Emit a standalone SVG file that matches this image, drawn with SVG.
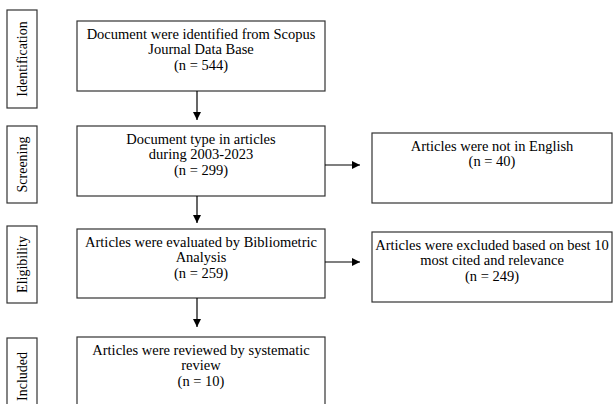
<svg xmlns="http://www.w3.org/2000/svg" width="614" height="404" viewBox="0 0 614 404">
<style>
.box{fill:#fff;stroke:#333;stroke-width:1.2}
.t{font-family:"Liberation Serif","Times New Roman",serif;font-size:14.5px;fill:#000;text-anchor:middle}
.v{font-family:"Liberation Serif","Times New Roman",serif;font-size:14px;fill:#000;text-anchor:middle}
.c{stroke:#000;stroke-width:1.2;fill:none}
</style>
<defs>
<marker id="ah" viewBox="0 0 10 10" refX="10" refY="5" markerWidth="8" markerHeight="8" markerUnits="userSpaceOnUse" orient="auto">
<path d="M0,0 L10,5 L0,10 z" fill="#000"/>
</marker>
</defs>
<rect width="614" height="404" fill="#fff"/>
<g id="stage-identification">
<rect class="box" x="7" y="10" width="30" height="98"/>
<text class="v" transform="translate(27,59) rotate(-90)">Identification</text>
</g>
<g id="stage-screening">
<rect class="box" x="7" y="126" width="30" height="77"/>
<text class="v" transform="translate(27,164.5) rotate(-90)">Screening</text>
</g>
<g id="stage-eligibility">
<rect class="box" x="7" y="226" width="30" height="77"/>
<text class="v" transform="translate(27,264.5) rotate(-90)">Eligibility</text>
</g>
<g id="stage-included">
<rect class="box" x="7" y="338" width="30" height="77"/>
<text class="v" transform="translate(27,376.5) rotate(-90)">Included</text>
</g>
<g id="node-identified">
<rect class="box" x="77" y="21" width="248" height="70"/>
<text class="t" x="201" y="38.5">Document were identified from Scopus</text>
<text class="t" x="201" y="54">Journal Data Base</text>
<text class="t" x="201" y="69.5">(n = 544)</text>
</g>
<g id="node-screened">
<rect class="box" x="77" y="126" width="248" height="70"/>
<text class="t" x="201" y="143.5">Document type in articles</text>
<text class="t" x="201" y="159">during 2003-2023</text>
<text class="t" x="201" y="174.5">(n = 299)</text>
</g>
<g id="node-not-english">
<rect class="box" x="372" y="133" width="240" height="70"/>
<text class="t" x="492" y="150.5">Articles were not in English</text>
<text class="t" x="492" y="166">(n = 40)</text>
</g>
<g id="node-eligible">
<rect class="box" x="77" y="229" width="248" height="69"/>
<text class="t" x="201" y="246.5">Articles were evaluated by Bibliometric</text>
<text class="t" x="201" y="262">Analysis</text>
<text class="t" x="201" y="277.5">(n = 259)</text>
</g>
<g id="node-excluded">
<rect class="box" x="372" y="232" width="240" height="70"/>
<text class="t" x="492" y="249.5">Articles were excluded based on best 10</text>
<text class="t" x="492" y="265">most cited and relevance</text>
<text class="t" x="492" y="280.5">(n = 249)</text>
</g>
<g id="node-included">
<rect class="box" x="77" y="337" width="248" height="80"/>
<text class="t" x="201" y="354.5">Articles were reviewed by systematic</text>
<text class="t" x="201" y="370">review</text>
<text class="t" x="201" y="385.5">(n = 10)</text>
</g>
<g id="connectors">
<line class="c" x1="197" y1="91" x2="197" y2="120" marker-end="url(#ah)"/>
<line class="c" x1="197" y1="196" x2="197" y2="223" marker-end="url(#ah)"/>
<line class="c" x1="197" y1="298" x2="197" y2="327" marker-end="url(#ah)"/>
<line class="c" x1="325" y1="165" x2="360" y2="165" marker-end="url(#ah)"/>
<line class="c" x1="325" y1="262" x2="360" y2="262" marker-end="url(#ah)"/>
</g>
</svg>
